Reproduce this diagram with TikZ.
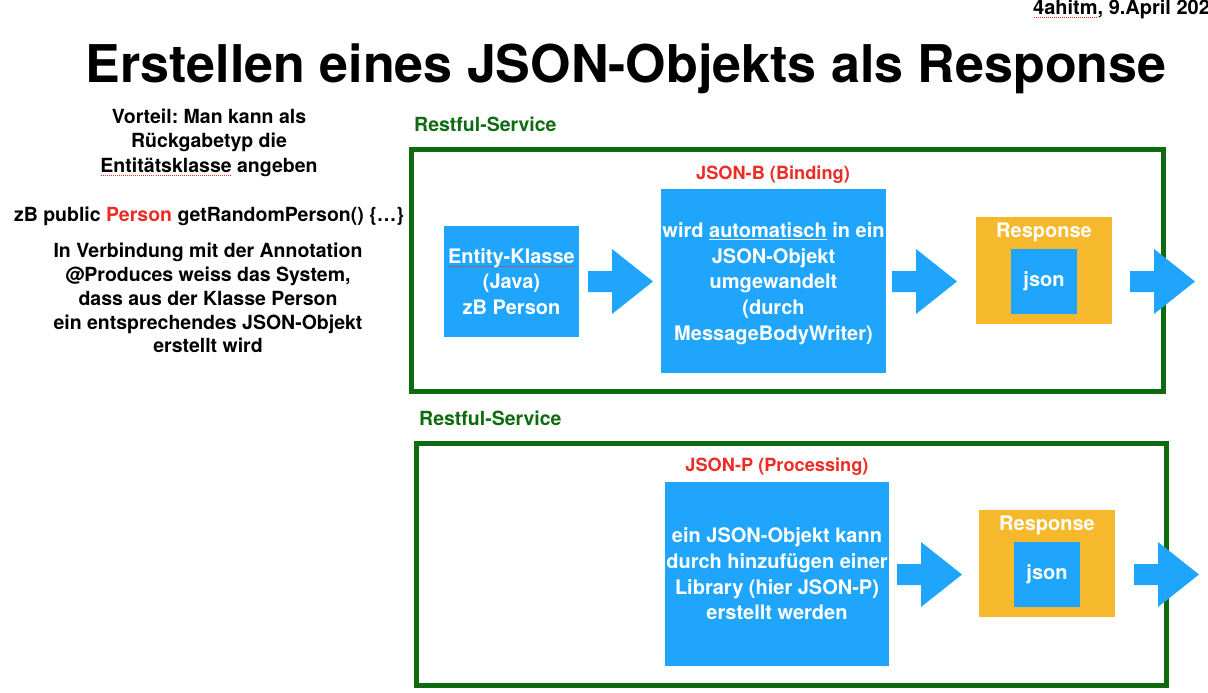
\documentclass[tikz,border=0pt]{standalone}
\usepackage{fontspec}
\setmainfont{TeX Gyre Heros}
\usepackage{tikz}
\usetikzlibrary{positioning,calc}
\definecolor{Blue}{HTML}{1FA5FC}
\definecolor{Amber}{HTML}{F6B92E}
\definecolor{Green}{HTML}{0E6B10}
\definecolor{Red}{HTML}{EC2C25}
\newsavebox\spellbox
\newcommand\spellmark[1]{\sbox\spellbox{#1}\rlap{\textcolor{Red}{\raisebox{-3.5pt}{\hbox to\wd\spellbox{\xleaders\hbox to 2pt{\hss\rule{1pt}{0.9pt}\hss}\hfill}}}}\usebox\spellbox}
\frenchspacing

\begin{document}
\begin{tikzpicture}[x=1pt,y=-1pt,
frame/.style={draw=Green,line width=5pt},
box/.style={fill=Blue,text=white,inner sep=0pt,align=center,font=\fontsize{20}{25.7}\bfseries},
resp/.style={fill=Amber,inner sep=0pt},
lbl/.style={font=\fontsize{20}{24}\bfseries,inner sep=0pt},
note/.style={font=\fontsize{19.5}{24.5}\bfseries,align=center,inner sep=0pt}]
\useasboundingbox (0,0) rectangle (1208,693);
% header
\node[anchor=base west,font=\fontsize{20}{24}\bfseries,inner sep=0pt] (date) at (1033,14.5) {\spellmark{4ahitm}, 9.April 2021};
\node[anchor=base,font=\fontsize{52}{60}\bfseries,inner sep=0pt] (title) at (626,83) {Erstellen eines JSON-Objekts als Response};
% left notes
\node[note] (vorteil) at (209,142.5) {Vorteil: Man kann als\\R\"uckgabetyp die\\\spellmark{Entit\"atsklasse} angeben};
\node[note,anchor=base] (code) at (209,221) {zB public \textcolor{Red}{Person} getRandomPerson() \{\dots\}};
\node[note,font=\fontsize{19.5}{23.9}\bfseries] (annot) at (208,298) {In Verbindung mit der Annotation\\@Produces weiss das System,\\dass aus der Klasse Person\\ein entsprechendes JSON-Objekt\\erstellt wird};
% JSON-B
\draw[frame] (411,149) rectangle (1163,391);
\node[lbl,anchor=base west,text=Green,font=\fontsize{19.5}{24}\bfseries] (svcb) at (414,131) {Restful-Service};
\node[lbl,anchor=base,text=Red,font=\fontsize{18.2}{22}\bfseries] (jsonb) at (773,179) {JSON-B (Binding)};
\node[box,minimum width=135pt,minimum height=111pt] (entity) at (511.5,281.5) {\spellmark{Entity-Klasse}\\(Java)\\zB Person};
\node[box,minimum width=225pt,minimum height=184pt] (wandel) at (773.5,281) {};
\node[box,fill=none] (wandeltext) at (773.5,283.5) {wird \underline{automatisch} in ein\\JSON-Objekt\\umgewandelt\\(durch\\MessageBodyWriter)};
\node[resp,minimum width=136pt,minimum height=107pt] (respb) at (1044,270.5) {};
\node[lbl,anchor=base,text=white] (respbt) at (1044,237) {Response};
\node[box,minimum width=66pt,minimum height=65pt] (jsonbox) at (1044,281.5) {json};
% JSON-P
\draw[frame] (416,443) rectangle (1166,685);
\node[lbl,anchor=base west,text=Green,font=\fontsize{19.5}{24}\bfseries] (svcp) at (419,425) {Restful-Service};
\node[lbl,anchor=base,text=Red,font=\fontsize{18.2}{22}\bfseries] (jsonp) at (777,471) {JSON-P (Processing)};
\node[box,minimum width=224pt,minimum height=184pt] (library) at (777,574) {ein JSON-Objekt kann\\durch hinzuf\"ugen einer\\Library (hier JSON-P)\\erstellt werden};
\node[resp,minimum width=136pt,minimum height=107pt] (respp) at (1047,563.5) {};
\node[lbl,anchor=base,text=white] (resppt) at (1047,530) {Response};
\node[box,minimum width=66pt,minimum height=65pt] (jsonpbox) at (1047,574.5) {json};
% block arrows
\foreach \ax/\ay in {588/281.5,892/281.5,1130/281.5,897/574.5,1134/574.5}
  \fill[Blue] (\ax,{\ay-10.5}) -- ({\ax+24},{\ay-10.5}) -- ({\ax+24},{\ay-32.5}) -- ({\ax+65},\ay)
    -- ({\ax+24},{\ay+32.5}) -- ({\ax+24},{\ay+10.5}) -- (\ax,{\ay+10.5}) -- cycle;
\end{tikzpicture}
\end{document}
